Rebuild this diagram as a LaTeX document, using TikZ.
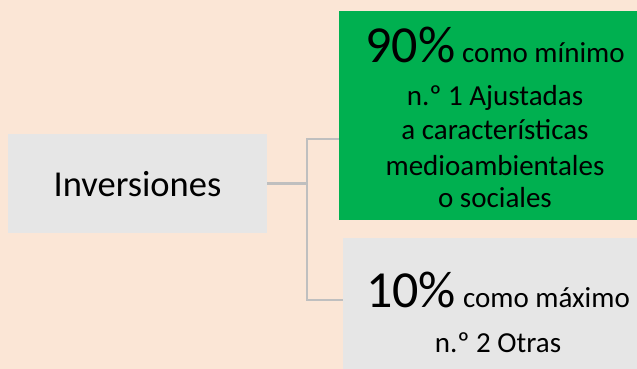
\documentclass[tikz,border=0pt]{standalone}
\usepackage{fontspec}
\setmainfont{Carlito}
\definecolor{bgpeach}{HTML}{FBE6D6}
\definecolor{boxgray}{HTML}{E6E6E6}
\definecolor{boxgreen}{HTML}{00B050}
\definecolor{linegray}{HTML}{BFBFBF}
\tikzset{
  box/.style={draw=none, inner sep=0pt, anchor=north west},
  conn/.style={draw=linegray, line width=2.5pt},
  txt/.style={inner sep=0pt, anchor=base, text=black},
}
\newcommand{\smallsz}{\fontsize{29}{32}\selectfont}
\newcommand{\bigsz}{\fontsize{52}{56}\selectfont}
\begin{document}
\begin{tikzpicture}[x=1pt,y=-1pt]
\useasboundingbox (0,0) rectangle (637,369);
\fill[bgpeach] (0,0) rectangle (637,369);
\begin{scope}
\clip (0,0) rectangle (637,369);
\node[box, fill=boxgray, minimum width=259pt, minimum height=99pt] (inv) at (8,134) {};
\node[box, fill=boxgreen, minimum width=312pt, minimum height=209pt] (green) at (339,11) {};
\node[box, fill=boxgray, minimum width=310pt, minimum height=140pt] (gray) at (343,238) {};
\end{scope}
\node[txt] (invt) at (137.5,196) {\fontsize{36.5}{40}\selectfont Inversiones};
\node[txt] (g1) at (495,63) {{\bigsz 90\%}\hspace{7pt}{\smallsz como mínimo}};
\node[txt] (g2) at (495,105) {\smallsz n.º 1 Ajustadas};
\node[txt] (g3) at (495,139) {\smallsz a características};
\node[txt] (g4) at (495,175) {\smallsz medioambientales};
\node[txt] (g5) at (495,207) {\smallsz o sociales};
\node[txt] (r1) at (498,307) {{\bigsz 10\%}\hspace{7pt}{\smallsz como máximo}};
\node[txt] (r2) at (498,352) {\smallsz n.º 2 Otras};
\coordinate (jtop) at (307,139);
\coordinate (jbot) at (307,300);
\draw[conn] (inv.east) -- (inv.east -| jtop);
\draw[conn] (green.west |- jtop) -- (jtop) -- (jbot) -- (gray.west |- jbot);
\end{tikzpicture}
\end{document}
